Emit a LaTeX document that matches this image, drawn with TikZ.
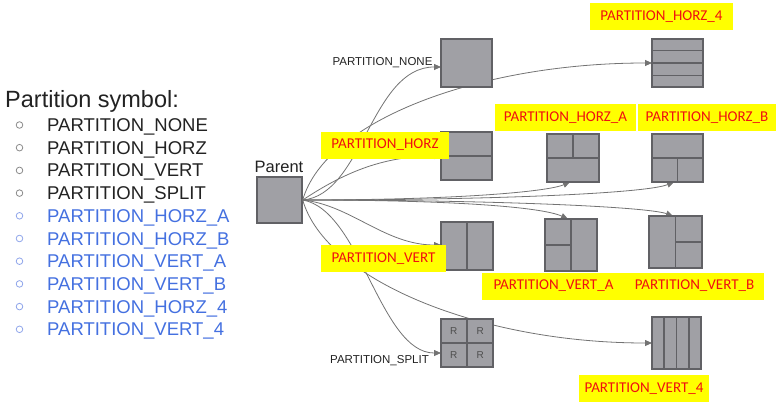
\documentclass[tikz,border=0pt]{standalone}
\usepackage{fontspec}
\setmainfont{Liberation Sans}
\newfontfamily\calibri{Carlito}
\usepackage{xcolor}
\usepackage{tikz}
\usetikzlibrary{positioning,calc,arrows.meta}

\definecolor{boxfill}{HTML}{A0A0A5}
\definecolor{boxline}{HTML}{616165}
\definecolor{wire}{HTML}{737373}
\definecolor{tagyellow}{HTML}{FFFF00}
\definecolor{tagred}{HTML}{F01010}
\definecolor{listblack}{HTML}{222222}
\definecolor{listblue}{HTML}{4470E0}
\definecolor{dotgrey}{HTML}{8A8A8A}
\definecolor{dotblue}{HTML}{8EA4EA}

\tikzset{
    part/.style={draw=boxline, fill=boxfill, line width=1.4pt, inner sep=0pt},
    divider/.style={draw=boxline, line width=1.4pt},
    link/.style={draw=wire, line width=0.8pt, -{Triangle[length=7pt,width=6pt]}},
    tag/.style={fill=tagyellow, text=tagred, font=\calibri\fontsize{15}{18}\selectfont, minimum height=27pt, inner sep=0pt},
    smalllabel/.style={text=listblack, font=\fontsize{11.5}{14}\selectfont, inner sep=0pt}
}

\begin{document}
\begin{tikzpicture}[x=1pt, y=-1pt]
        \useasboundingbox (0,0) rectangle (776,404);

        % Legend
        \node [anchor=base west, inner sep=0pt, text=listblack, font=\fontsize{23.5}{28}\selectfont] (title) at (5,107) {Partition symbol:};
        \foreach \name/\col/\dot [count=\i from 0] in {PARTITION\_NONE/listblack/dotgrey, PARTITION\_HORZ/listblack/dotgrey, PARTITION\_VERT/listblack/dotgrey, PARTITION\_SPLIT/listblack/dotgrey, PARTITION\_HORZ\_A/listblue/dotblue, PARTITION\_HORZ\_B/listblue/dotblue, PARTITION\_VERT\_A/listblue/dotblue, PARTITION\_VERT\_B/listblue/dotblue, PARTITION\_HORZ\_4/listblue/dotblue, PARTITION\_VERT\_4/listblue/dotblue} {
            \node [anchor=base west, inner sep=0pt, text=\col, font=\fontsize{18.5}{22}\selectfont] (item\i) at (47,{131.5+22.7*\i}) {\name};
            \draw [\dot, line width=0.8pt] (19.5,{125+22.7*\i}) circle [radius=3.3pt];
        }

        % Parent block
        \node [part, minimum width=45pt, minimum height=46pt] (parent) at (279.5,200) {};
        \node [anchor=base, inner sep=0pt, text=listblack, font=\fontsize{16.5}{20}\selectfont] (parentlabel) at (279,172) {Parent};

        % Connectors (drawn first, they pass under the blocks)
        \coordinate (nonein) at (441,67);
        \coordinate (splitin) at (441,353);
        \draw [link] (parent.east) .. controls +(60,-5) and +(-70,0) .. (nonein);
        \draw [link] (parent.east) .. controls +(23,-80) and +(-172,0) .. (652,63) coordinate (horzfourin);
        \draw [link] (parent.east) .. controls +(38,-25) and +(-61,0) .. (441,156) coordinate (horzin);
        \draw [link] (parent.east) .. controls +(150,0) and +(-23,10) .. (570,182) coordinate (horzain);
        \draw [link] (parent.east) .. controls +(200,0) and +(-27,11) .. (674,182) coordinate (horzbin);
        \draw [link] (parent.east) .. controls +(150,0) and +(-26,-12) .. (568,219) coordinate (vertain);
        \draw [link] (parent.east) .. controls +(200,0) and +(-25,-9) .. (673,216) coordinate (vertbin);
        \draw [link] (parent.east) .. controls +(48,5) and +(-56,0) .. (441,245) coordinate (vertin);
        \draw [link] (parent.east) .. controls +(58,10) and +(-61,0) .. (splitin);
        \draw [link] (parent.east) .. controls +(23,80) and +(-172,0) .. (652,343) coordinate (vertfourin);

        % Partition blocks
        \node [part, minimum width=51pt, minimum height=48pt] (none) at (466.5,63) {};

        \node [part, minimum width=51pt, minimum height=48pt] (horz) at (466.5,156) {};
        \draw [divider] (horz.west) -- (horz.east);

        \node [part, minimum width=52pt, minimum height=48pt] (vert) at (467,246) {};
        \draw [divider] (vert.north) -- (vert.south);

        \node [part, minimum width=52pt, minimum height=48pt] (split) at (467,343) {};
        \draw [divider] (split.west) -- (split.east);
        \draw [divider] (split.north) -- (split.south);
        \foreach \corner in {north west, north east, south west, south east}
            \node [text=listblack!80, font=\fontsize{10}{12}\selectfont, inner sep=0pt] at ($(split.center)!0.5!(split.\corner)$) {R};

        \node [part, minimum width=51pt, minimum height=48pt] (horzfour) at (677.5,63) {};
        \foreach \f in {0.25,0.5,0.75}
            \draw [divider] ($(horzfour.north west)!\f!(horzfour.south west)$) -- ($(horzfour.north east)!\f!(horzfour.south east)$);

        \node [part, minimum width=52pt, minimum height=48pt] (horza) at (573,158) {};
        \draw [divider] (horza.west) -- (horza.east);
        \draw [divider] (horza.north) -- (horza.center);

        \node [part, minimum width=51pt, minimum height=48pt] (horzb) at (677.5,158) {};
        \draw [divider] (horzb.west) -- (horzb.east);
        \draw [divider] (horzb.center) -- (horzb.south);

        \node [part, minimum width=52pt, minimum height=52pt] (verta) at (571,245) {};
        \draw [divider] (verta.north) -- (verta.south);
        \draw [divider] (verta.west) -- (verta.center);

        \node [part, minimum width=53pt, minimum height=52pt] (vertb) at (675.5,242) {};
        \draw [divider] (vertb.north) -- (vertb.south);
        \draw [divider] (vertb.center) -- (vertb.east);

        \node [part, minimum width=49pt, minimum height=52pt] (vertfour) at (676.5,343) {};
        \foreach \f in {0.25,0.5,0.75}
            \draw [divider] ($(vertfour.north west)!\f!(vertfour.north east)$) -- ($(vertfour.south west)!\f!(vertfour.south east)$);

        % Plain labels
        \node [smalllabel] (nonelabel) at (382.5,63) {PARTITION\_NONE};
        \node [smalllabel] (splitlabel) at (379.5,361) {PARTITION\_SPLIT};

        % Highlighted labels
        \node [tag, minimum width=143pt] (horzfourtag) at (661.5,16.5) {PARTITION\_HORZ\_4};
        \node [tag, minimum width=128pt] (horztag) at (385,145) {PARTITION\_HORZ};
        \node [tag, minimum width=141pt] (horzatag) at (565.5,117.5) {PARTITION\_HORZ\_A};
        \node [tag, minimum width=138pt] (horzbtag) at (707,117.5) {PARTITION\_HORZ\_B};
        \node [tag, minimum width=125pt] (verttag) at (383.5,258.5) {PARTITION\_VERT};
        \node [tag, minimum width=143pt] (vertatag) at (553.5,286) {PARTITION\_VERT\_A};
        \node [tag, minimum width=139pt] (vertbtag) at (694.5,286) {PARTITION\_VERT\_B};
        \node [tag, minimum width=130pt] (vertfourtag) at (644,388.5) {PARTITION\_VERT\_4};
    \end{tikzpicture}
\end{document}
